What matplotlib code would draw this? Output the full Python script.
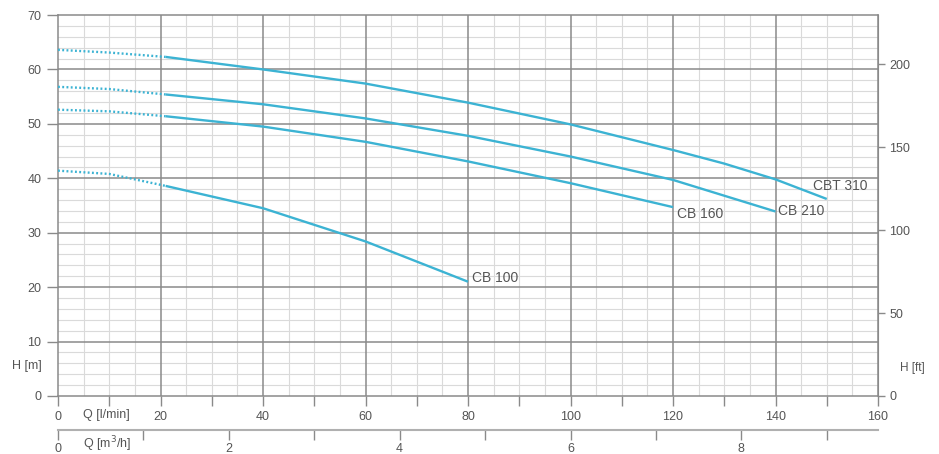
import matplotlib
matplotlib.use("Agg")
import matplotlib.pyplot as plt
import matplotlib.transforms as mtransforms
from matplotlib.ticker import FixedLocator, FuncFormatter

plt.rcParams['font.family'] = ['Liberation Sans', 'DejaVu Sans']

# ---- data (Q in l/min, H in m) ----
models = ["CB 100", "CB 160", "CB 210", "CBT 310"]

cb100_q_dot = [0, 10, 21]
cb100_h_dot = [41.4, 40.8, 38.6]
cb100_q = [21, 40, 60, 80]
cb100_h = [38.6, 34.5, 28.4, 21.0]

cb160_q_dot = [0, 10, 21]
cb160_h_dot = [52.6, 52.3, 51.4]
cb160_q = [21, 40, 60, 80, 100, 120]
cb160_h = [51.4, 49.5, 46.7, 43.1, 39.1, 34.7]

cb210_q_dot = [0, 10, 21]
cb210_h_dot = [56.8, 56.4, 55.4]
cb210_q = [21, 40, 60, 80, 100, 120, 140]
cb210_h = [55.4, 53.6, 51.0, 47.8, 44.0, 39.7, 33.9]

cbt310_q_dot = [0, 10, 21]
cbt310_h_dot = [63.6, 63.1, 62.3]
cbt310_q = [21, 40, 60, 80, 100, 120, 130, 140, 150]
cbt310_h = [62.3, 60.0, 57.4, 53.9, 49.9, 45.2, 42.7, 39.8, 36.2]

x_ticks_lpm = list(range(0, 161, 10))
y_ticks_m = list(range(0, 71, 10))
ft_ticks = [0, 50, 100, 150, 200]
m3h_ticks = [0, 2, 4, 6, 8]
m3h_minor = [1, 3, 5, 7, 9]

curve_color = '#3cb3d3'
major_grid = '#8a8a8a'
minor_grid = '#dadada'
txt = '#555555'

fig = plt.figure(figsize=(9.39, 4.54), dpi=100)
ax = fig.add_axes([58/939, 58/454, 820/939, 381/454])
ax.set_xlim(0, 160)
ax.set_ylim(0, 70)

# grid
for x in range(5, 160, 5):
    if x % 20:
        ax.axvline(x, color=minor_grid, lw=0.8, zorder=0)
for y in range(2, 70, 2):
    if y % 10:
        ax.axhline(y, color=minor_grid, lw=0.8, zorder=0)
for x in range(20, 160, 20):
    ax.axvline(x, color=major_grid, lw=1.1, zorder=1)
for y in range(10, 70, 10):
    ax.axhline(y, color=major_grid, lw=1.1, zorder=1)

for s in ax.spines.values():
    s.set_color(major_grid)
    s.set_linewidth(1.1)

ax.set_xticks(x_ticks_lpm)
ax.xaxis.set_major_formatter(FuncFormatter(lambda v, p: f"{int(v)}" if int(v) % 20 == 0 else ""))
ax.set_yticks(y_ticks_m)
ax.tick_params(axis='x', direction='out', length=7, width=1, color=major_grid,
               labelcolor=txt, labelsize=9, pad=4)
ax.tick_params(axis='y', direction='out', length=8, width=1, color=major_grid,
               labelcolor=txt, labelsize=9, pad=4)

# curves
series = [
    (cb100_q_dot, cb100_h_dot, cb100_q, cb100_h),
    (cb160_q_dot, cb160_h_dot, cb160_q, cb160_h),
    (cb210_q_dot, cb210_h_dot, cb210_q, cb210_h),
    (cbt310_q_dot, cbt310_h_dot, cbt310_q, cbt310_h),
]
label_offsets = [(3, 3), (3, -5), (2, 0), (-10, 9)]
for name, (qd, hd, q, h), off in zip(models, series, label_offsets):
    ax.plot(qd, hd, color=curve_color, lw=1.7, linestyle=(0, (0.8, 1.0)), zorder=3)
    ax.plot(q, h, color=curve_color, lw=1.7, zorder=3, solid_capstyle='butt')
    ax.annotate(name, (q[-1], h[-1]), xytext=off, textcoords='offset points',
                ha='left', va='center', fontsize=10, color=txt, zorder=4)

# right axis in feet
sec_y = ax.secondary_yaxis('right', functions=(lambda m: m / 0.3048, lambda f: f * 0.3048))
sec_y.set_yticks(ft_ticks)
sec_y.spines['right'].set_color(major_grid)
sec_y.tick_params(direction='out', length=5, width=1, color=major_grid,
                  labelcolor=txt, labelsize=9, pad=3)

# second x axis in m3/h
sec_x = ax.secondary_xaxis(-34/381, functions=(lambda q: q * 0.06, lambda m: m / 0.06))
sec_x.set_xticks(m3h_ticks)
sec_x.xaxis.set_minor_locator(FixedLocator(m3h_minor))
sec_x.spines['bottom'].set_color('#b0b0b0')
sec_x.spines['bottom'].set_linewidth(1.5)
sec_x.tick_params(which='both', direction='out', length=7, width=1, color=major_grid,
                  labelcolor=txt, labelsize=9, pad=2)

# axis titles
trans = mtransforms.blended_transform_factory(ax.transData, ax.transAxes)
ax.text(4.8, -19/381, "Q [l/min]", transform=trans, ha='left', va='center',
        fontsize=9, color=txt)
ax.text(4.8, -48/381, "Q [m$^3$/h]", transform=trans, ha='left', va='center',
        fontsize=9, color=txt)
fig.text(12/939, (454-366)/454, "H [m]", ha='left', va='center', fontsize=9, color=txt)
fig.text(900/939, (454-368)/454, "H [ft]", ha='left', va='center', fontsize=8.5, color=txt)

fig.savefig("out.png", dpi=100, facecolor='white')
